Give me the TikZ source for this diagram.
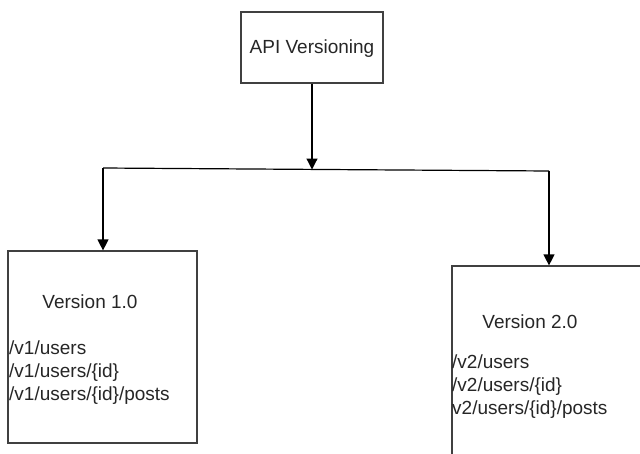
\documentclass[tikz,border=0pt]{standalone}
\usepackage{fontspec}
\setmainfont{Liberation Sans}
\usetikzlibrary{arrows.meta}

\tikzset{
  box/.style={draw=black!75, line width=1.2pt, inner sep=0pt},
  label/.style={text=black!85, font=\fontsize{19}{22.8}\selectfont},
  paths/.style={label, align=left, anchor=north west, inner sep=0pt},
  link/.style={draw=black, line width=1.2pt},
  arrow/.style={link, -{Triangle[length=11pt, width=11pt]}}
}

\begin{document}
\begin{tikzpicture}[x=1pt, y=-1pt]
        \useasboundingbox (0,0) rectangle (640,453);
        \clip (0,0) rectangle (640,453);
        % Draw the boxes
        \node[box, minimum width=142pt, minimum height=71pt] (api) at (312,47.5) {};
        \node[box, minimum width=189pt, minimum height=192pt] (v1) at (102.5,347) {};
        \node[box, minimum width=200pt, minimum height=220pt] (v2) at (552,376) {};
        % Label the boxes
        \node[label] (apititle) at (312,49) {API Versioning};
        \node[label] (v1title) at (90,302) {Version 1.0};
        \node[paths] (v1paths) at (9,341) {/v1/users\\/v1/users/\{id\}\\/v1/users/\{id\}/posts};
        \node[label] (v2title) at (530,322) {Version 2.0};
        \node[paths] (v2paths) at (452,355) {/v2/users\\/v2/users/\{id\}\\v2/users/\{id\}/posts};
        % Draw the connectors
        \coordinate (split) at (312,169.5);
        \coordinate (lcorner) at (103,168);
        \coordinate (rcorner) at (549,171);
        \draw[arrow] (api.south) -- (split);
        \draw[link] (lcorner) -- (rcorner);
        \draw[arrow] (lcorner) -- (lcorner |- v1.north);
        \draw[arrow] (rcorner) -- (rcorner |- v2.north);
    \end{tikzpicture}
\end{document}
